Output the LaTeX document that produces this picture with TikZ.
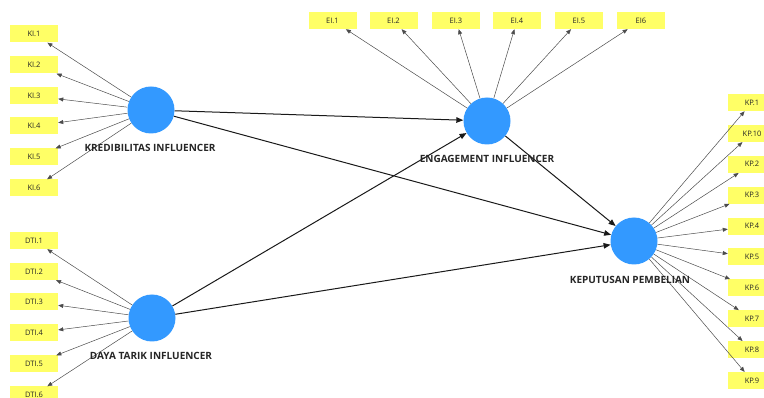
\documentclass[tikz,border=0pt]{standalone}
\usepackage{fontspec}
\setmainfont{Open Sans}
\usetikzlibrary{arrows.meta}
\definecolor{indyellow}{RGB}{255,255,102}
\definecolor{lvblue}{RGB}{51,153,255}
\begin{document}
\begin{tikzpicture}[x=1pt,y=-1pt,
  ind/.style={fill=indyellow, minimum width=48pt, minimum height=17pt, inner sep=0pt, font=\fontsize{7.5}{8}\selectfont, text=black!85},
  lv/.style={circle, fill=lvblue, minimum size=47pt, inner sep=0pt},
  lvlabel/.style={font=\bfseries\fontsize{10}{11}\selectfont, inner sep=0pt, text=black!85},
  loadarrow/.style={-{Triangle[length=5pt,width=4pt]}, line width=0.5pt, draw=black!70},
  structarrow/.style={-{Triangle[length=7pt,width=5.5pt]}, line width=1pt, draw=black!90}]
\useasboundingbox (0,0) rectangle (764,398);
% latent variables
\node[lv] (KI) at (151,110) {};
\node[lv] (DTI) at (152,318) {};
\node[lv] (EI) at (487,121) {};
\node[lv] (KP) at (634,241) {};
% indicators
\foreach \i/\y in {1/34,2/65,3/96,4/126,5/157,6/188}
  \node[ind] (KI\i) at (34,\y) {KI.\i};
\foreach \i/\y in {1/240.5,2/271.5,3/302,4/333,5/364,6/395}
  \node[ind] (DTI\i) at (34,\y) {DTI.\i};
\foreach \i/\x in {1/332.5,2/393.5,3/456,4/517,5/579}
  \node[ind] (EI\i) at (\x,20.5) {EI.\i};
\node[ind] (EI6) at (641,20.5) {EI6};
\foreach \n/\t/\y in {a/KP.1/102.5,b/KP.10/133.4,c/KP.2/164.3,d/KP.3/195.2,e/KP.4/226.1,f/KP.5/257,g/KP.6/287.9,h/KP.7/318.8,k/KP.8/349.7,m/KP.9/380.6}
  \node[ind] (KP\n) at (752,\y) {\t};
% loading arrows
\foreach \i in {1,...,6} {
  \draw[loadarrow] (KI) -- (KI\i);
  \draw[loadarrow] (DTI) -- (DTI\i);
  \draw[loadarrow] (EI) -- (EI\i);
}
\foreach \n in {a,b,c,d,e,f,g,h,k,m}
  \draw[loadarrow] (KP) -- (KP\n);
% structural paths
\draw[structarrow] (KI) -- (EI);
\draw[structarrow] (KI) -- (KP);
\draw[structarrow] (DTI) -- (EI);
\draw[structarrow] (DTI) -- (KP);
\draw[structarrow] (EI) -- (KP);
% labels
\node[lvlabel] (KIl) at (150,148) {KREDIBILITAS INFLUENCER};
\node[lvlabel] (DTIl) at (151,356) {DAYA TARIK INFLUENCER};
\node[lvlabel] (EIl) at (487,159) {ENGAGEMENT INFLUENCER};
\node[lvlabel] (KPl) at (630,280) {KEPUTUSAN PEMBELIAN};
\end{tikzpicture}
\end{document}
